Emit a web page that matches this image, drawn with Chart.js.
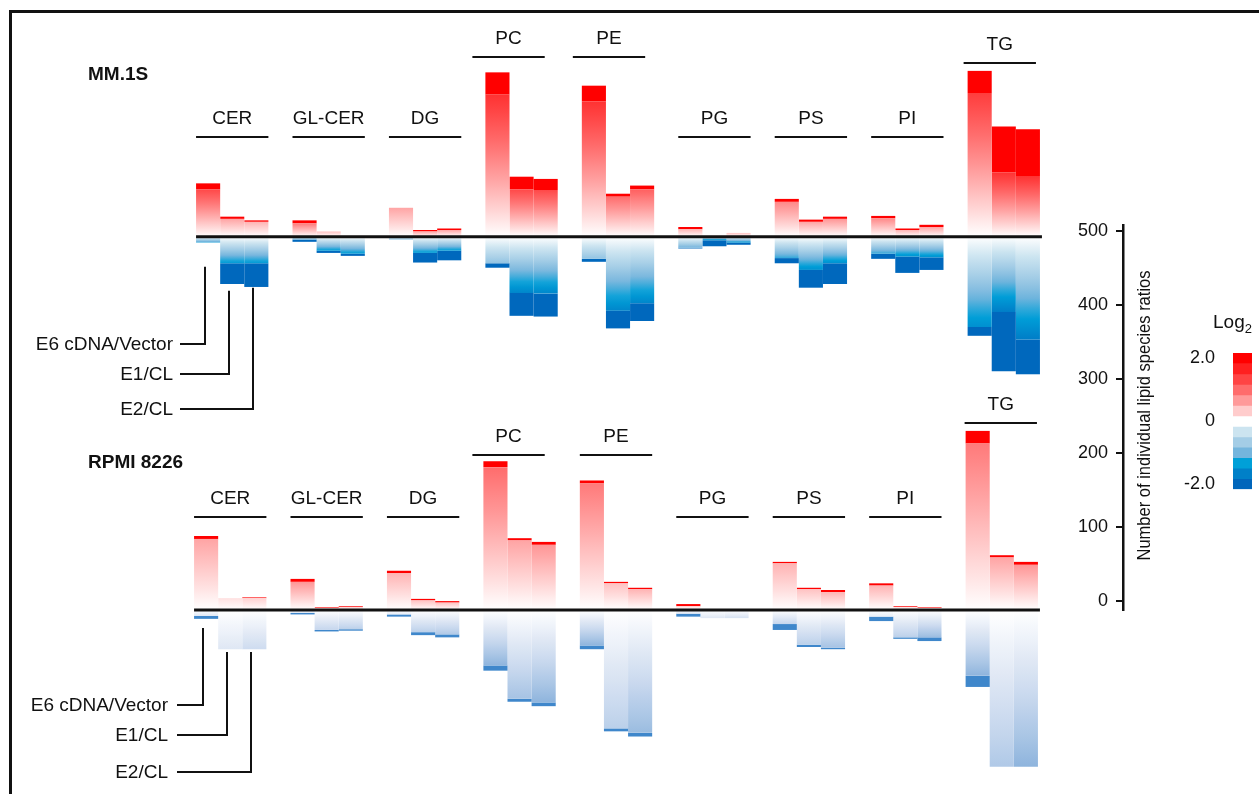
<!DOCTYPE html>
<html>
<head>
<meta charset="utf-8">
<script src="https://cdn.jsdelivr.net/npm/chart.js@4.4.1/dist/chart.umd.min.js"></script>
<style>
  body { margin: 0; background: #fff; width: 1259px; height: 794px; overflow: hidden; position: relative;
         font-family: "Liberation Sans", Arial, sans-serif; color: #111; }
  .frame { position: absolute; left: 9px; top: 10px; width: 1300px; height: 800px;
           border-left: 3px solid #111; border-top: 3px solid #111; }
  canvas { position: absolute; }
  .log2 { position: absolute; left: 1213px; top: 312px; font-size: 19px; line-height: 19px; }
  .log2 sub { font-size: 13px; }
</style>
</head>
<body>
<div class="frame"></div>
<canvas id="mm" width="1080" height="420" style="left:0;top:0"></canvas>
<canvas id="rp" width="1080" height="414" style="left:0;top:380px"></canvas>
<canvas id="scale" width="130" height="430" style="left:1040px;top:200px"></canvas>
<canvas id="bar" width="89" height="180" style="left:1170px;top:330px"></canvas>
<div class="log2">Log<sub>2</sub></div>

<script>
const lipidClasses = ['CER', 'GL-CER', 'DG', 'PC', 'PE', 'PG', 'PS', 'PI', 'TG'];
const ratioLabels = ['E6 cDNA/Vector', 'E1/CL', 'E2/CL'];

// number of species ratios per class, [E6 cDNA/Vector, E1/CL, E2/CL]
// "Strong" = part of the bar in the extreme log2 bin, "Peak" = log2 reached by the rest
const mmUp = [[72, 27, 22], [22, 7, 1], [39, 9, 11], [222, 81, 78], [204, 58, 69], [13, 0, 5], [51, 23, 27], [28, 11, 16], [224, 149, 145]];
const mmUpStrong = [[8, 3, 2], [4, 0, 0], [0, 2, 2], [30, 17, 15], [21, 4, 5], [3, 0, 0], [4, 3, 3], [3, 2, 3], [30, 62, 63]];
const mmUpPeak = [[1.3, 0.6, 0.5], [0.9, 0.4, 0.3], [0.6, 0.6, 0.6], [1.5, 1.3, 1.3], [1.5, 1.0, 1.1], [0.5, 0, 0.4], [0.8, 0.6, 0.7], [0.8, 0.5, 0.6], [1.4, 1.5, 1.5]];
const mmDown = [[8, 64, 68], [7, 22, 26], [4, 35, 32], [42, 107, 108], [34, 124, 114], [16, 13, 11], [36, 69, 64], [30, 49, 45], [134, 182, 186]];
const mmDownStrong = [[0, 28, 32], [3, 3, 3], [0, 13, 13], [6, 31, 31], [4, 24, 24], [1, 8, 3], [7, 24, 28], [7, 22, 17], [12, 80, 47]];
const mmDownPeak = [[-1.2, -1.4, -1.4], [-1.0, -1.4, -1.4], [-0.8, -1.4, -1.4], [-0.8, -1.6, -1.6], [-0.8, -1.6, -1.6], [-1.0, -1.6, -1.4], [-1.2, -1.5, -1.5], [-1.2, -1.5, -1.5], [-1.5, -1.7, -1.7]];

const rpUp = [[100, 16, 17], [42, 4, 5], [53, 15, 12], [201, 97, 92], [175, 38, 30], [8, 0, 0], [65, 30, 27], [36, 5, 4], [242, 74, 65]];
const rpUpStrong = [[4, 0, 1], [4, 1, 1], [3, 2, 2], [8, 3, 4], [4, 2, 2], [3, 0, 0], [2, 2, 3], [3, 1, 1], [17, 3, 4]];
const rpUpPeak = [[0.6, 0.2, 0.3], [0.7, 0.3, 0.3], [0.5, 0.4, 0.4], [1.0, 0.6, 0.7], [0.9, 0.4, 0.5], [0.2, 0, 0], [0.5, 0.4, 0.5], [0.5, 0.2, 0.2], [0.9, 0.6, 0.7]];
const rpDown = [[12, 53, 53], [6, 29, 28], [9, 34, 37], [82, 124, 130], [53, 164, 171], [9, 11, 11], [27, 50, 53], [15, 39, 42], [104, 212, 212]];
const rpDownStrong = [[4, 0, 0], [2, 2, 2], [3, 4, 4], [7, 4, 5], [5, 4, 5], [4, 0, 0], [8, 3, 2], [6, 2, 5], [15, 0, 0]];
const rpDownPeak = [[-0.4, -0.4, -0.6], [-0.4, -0.7, -0.8], [-0.3, -0.8, -0.9], [-1.2, -1.0, -1.2], [-1.2, -0.8, -1.1], [-0.4, -0.4, -0.5], [-0.7, -0.8, -1.0], [-0.3, -0.8, -1.1], [-1.2, -0.9, -1.2]];

const scaleTicks = [0, 100, 200, 300, 400, 500];
const colorTicks = [2, 0, -2];
// colour key, top (2.0) to bottom (-2.0)
const colorSteps = ['#ff0000', '#ff2020', '#ff4444', '#ff6c6c', '#ff9a9a', '#ffcccc', '#ffffff',
                    '#cce4f0', '#a4cde6', '#74b5dd', '#00a0d8', '#0080c8', '#0066bb'];
// RPMI 8226 panel uses a greyer blue for decreases
const steelSteps = ['#ffffff', '#e4ebf6', '#c8d8ee', '#a6c3e4', '#7eaad8', '#5a94ce', '#3f87cb'];

const FONT = '"Liberation Sans", Arial, sans-serif';

function hex(c) { return [1, 3, 5].map(i => parseInt(c.slice(i, i + 2), 16)); }
const redRamp = colorSteps.slice(0, 7).reverse().map(hex);  // white -> red
const blueRamp = colorSteps.slice(6).map(hex);              // white -> blue
const steelRamp = steelSteps.map(hex);

function log2Color(v, negRamp) {
  const steps = v >= 0 ? redRamp : negRamp;
  const t = Math.min(6, Math.abs(v) * 3);
  const i = Math.floor(t), f = t - i;
  const a = steps[i], b = steps[Math.min(6, i + 1)];
  const m = a.map((x, k) => Math.round(x + (b[k] - x) * f));
  return `rgb(${m[0]},${m[1]},${m[2]})`;
}

// gradient from the baseline (white) to the peak log2 colour
function bodyFill(peaks, negRamp) {
  return (c) => {
    const chart = c.chart;
    if (c.type !== 'data' || !chart.chartArea || !c.raw) return 'rgba(0,0,0,0)';
    const y = chart.scales.y;
    const g = chart.ctx.createLinearGradient(0, y.getPixelForValue(0), 0, y.getPixelForValue(c.raw));
    const peak = peaks[c.dataIndex];
    for (let k = 0; k <= 10; k++) g.addColorStop(k / 10, log2Color(peak * k / 10, negRamp));
    return g;
  };
}

const panels = [
  { id: 'mm', title: 'MM.1S', titleY: 75, up: mmUp, upStrong: mmUpStrong, upPeak: mmUpPeak,
    down: mmDown, downStrong: mmDownStrong, downPeak: mmDownPeak,
    red: '#ff0000', blue: '#0068bd', ramp: blueRamp, yMin: -214, yMax: 286,
    pad: { left: 184, right: 28, top: 25, bottom: 25 },
    brackets: [134, 134, 134, 243, 243, 134, 134, 134, 235],
    bracketShift: [0, 0, 0, -13, -9, 0, 0, 0, -4],
    leader: { starts: [30, 54, 51], ends: [107, 137, 172], hx: 180, tx: 173 } },
  { id: 'rp', title: 'RPMI 8226', titleY: 83, up: rpUp, upStrong: rpUpStrong, upPeak: rpUpPeak,
    down: rpDown, downStrong: rpDownStrong, downPeak: rpDownPeak,
    red: '#ff0000', blue: '#3f87cb', ramp: steelRamp, yMin: -223, yMax: 277,
    pad: { left: 182, right: 30, top: 25, bottom: 19 },
    brackets: [126, 126, 126, 209, 209, 126, 126, 126, 253],
    bracketShift: [0, 0, 0, -11, 0, 0, 0, 0, -1],
    leader: { starts: [18, 42, 42], ends: [95, 125, 162], hx: 177, tx: 168 } }
];

function panelDatasets(p) {
  const sets = [];
  ratioLabels.forEach((lab, r) => {
    const col = (arr) => arr.map(row => row[r]);
    const up = col(p.up), upS = col(p.upStrong), dn = col(p.down), dnS = col(p.downStrong);
    const common = { stack: 's' + r, borderWidth: 0, barPercentage: 1, categoryPercentage: 0.75 };
    sets.push({ ...common, label: lab + ' up', data: up.map((v, i) => v - upS[i]), backgroundColor: bodyFill(col(p.upPeak), p.ramp) });
    sets.push({ ...common, label: lab + ' up strong', data: upS, backgroundColor: p.red });
    sets.push({ ...common, label: lab + ' down', data: dn.map((v, i) => -(v - dnS[i])), backgroundColor: bodyFill(col(p.downPeak), p.ramp) });
    sets.push({ ...common, label: lab + ' down strong', data: dnS.map(v => -v), backgroundColor: p.blue });
  });
  return sets;
}

function decorPlugin(p) {
  return {
    id: 'decor',
    afterDatasetsDraw(chart) {
      const { ctx, chartArea, scales: { x, y } } = chart;
      const w = chartArea.width / lipidClasses.length;
      const half = 0.75 * w / 2, barW = 0.75 * w / 3;
      const y0 = y.getPixelForValue(0);
      ctx.save();
      ctx.strokeStyle = '#111';
      ctx.fillStyle = '#111';
      ctx.lineWidth = 3;
      ctx.beginPath();
      ctx.moveTo(x.getPixelForValue(0) - half, y0);
      ctx.lineTo(x.getPixelForValue(lipidClasses.length - 1) + half + 2, y0);
      ctx.stroke();

      ctx.lineWidth = 2;
      ctx.font = '19px ' + FONT;
      ctx.textAlign = 'center';
      ctx.textBaseline = 'middle';
      lipidClasses.forEach((name, i) => {
        const cx = x.getPixelForValue(i) + p.bracketShift[i];
        const by = Math.round(y.getPixelForValue(p.brackets[i]));
        ctx.beginPath();
        ctx.moveTo(cx - half, by);
        ctx.lineTo(cx + half, by);
        ctx.stroke();
        ctx.fillText(name, cx, by - 18);
      });

      ctx.font = 'bold 19px ' + FONT;
      ctx.textAlign = 'left';
      ctx.fillText(p.title, 88, p.titleY);

      // leader lines to the three ratio labels
      ctx.font = '19px ' + FONT;
      ctx.textAlign = 'right';
      const L = p.leader;
      ratioLabels.forEach((lab, r) => {
        const bx = Math.round(x.getPixelForValue(0) - half + barW * (r + 0.5) - 3);
        const ys = y0 + L.starts[r], ye = Math.round(y0 + L.ends[r]);
        ctx.beginPath();
        ctx.moveTo(bx, ys);
        ctx.lineTo(bx, ye);
        ctx.lineTo(L.hx, ye);
        ctx.stroke();
        ctx.fillText(lab, L.tx, ye + 1);
      });
      ctx.restore();
    }
  };
}

panels.forEach(p => {
  new Chart(document.getElementById(p.id), {
    type: 'bar',
    data: { labels: lipidClasses, datasets: panelDatasets(p) },
    options: {
      responsive: false,
      animation: false,
      events: [],
      layout: { padding: p.pad },
      plugins: { legend: { display: false }, tooltip: { enabled: false } },
      scales: {
        x: { display: false, stacked: true },
        y: { display: false, stacked: true, min: p.yMin, max: p.yMax }
      }
    },
    plugins: [decorPlugin(p)]
  });
});

// stand-alone count scale
new Chart(document.getElementById('scale'), {
  type: 'bar',
  data: { labels: [''], datasets: [{ data: [null] }] },
  options: {
    responsive: false,
    animation: false,
    events: [],
    layout: { padding: { left: 0, right: 0, top: 25, bottom: 20 } },
    plugins: { legend: { display: false }, tooltip: { enabled: false } },
    scales: {
      x: { display: false },
      y: {
        position: 'left', min: -12, max: 508,
        afterBuildTicks: (s) => { s.ticks = scaleTicks.map(v => ({ value: v })); },
        afterFit: (s) => { s.width = 83; },
        border: { color: '#111', width: 2.5 },
        grid: { drawOnChartArea: false, tickLength: 7, color: '#111', lineWidth: 2 },
        ticks: { padding: 8, color: '#111', font: { family: FONT, size: 18 } }
      }
    }
  },
  plugins: [{
    id: 'scaleTitle',
    afterDraw(chart) {
      const { ctx, chartArea } = chart;
      const t = 'Number of individual lipid species ratios';
      ctx.save();
      ctx.translate(chartArea.left + 22, (chartArea.top + chartArea.bottom) / 2 - 2);
      ctx.rotate(-Math.PI / 2);
      ctx.font = '18px "Liberation Sans Narrow", ' + FONT;
      const sx = 290 / ctx.measureText(t).width;
      ctx.scale(sx, 1);
      ctx.textAlign = 'center';
      ctx.textBaseline = 'middle';
      ctx.fillStyle = '#111';
      ctx.fillText(t, 0, 0);
      ctx.restore();
    }
  }]
});

// colour key
new Chart(document.getElementById('bar'), {
  type: 'bar',
  data: {
    labels: [''],
    datasets: colorSteps.map((c, i) => ({
      data: [[(5.5 - i) / 3, (6.5 - i) / 3]],
      backgroundColor: c, borderWidth: 0, grouped: false,
      barPercentage: 1, categoryPercentage: 1
    }))
  },
  options: {
    responsive: false,
    animation: false,
    events: [],
    layout: { padding: { left: 0, right: 7, top: 23, bottom: 20 } },
    plugins: { legend: { display: false }, tooltip: { enabled: false } },
    scales: {
      x: { display: false },
      y: {
        min: -13 / 6, max: 13 / 6,
        afterBuildTicks: (s) => { s.ticks = colorTicks.map(v => ({ value: v })); },
        afterFit: (s) => { s.width = 63; },
        border: { display: false },
        grid: { display: false },
        ticks: { padding: 10, color: '#111', font: { family: FONT, size: 18 },
                 callback: (v) => v === 0 ? '0' : v.toFixed(1) }
      }
    }
  }
});
</script>
</body>
</html>
